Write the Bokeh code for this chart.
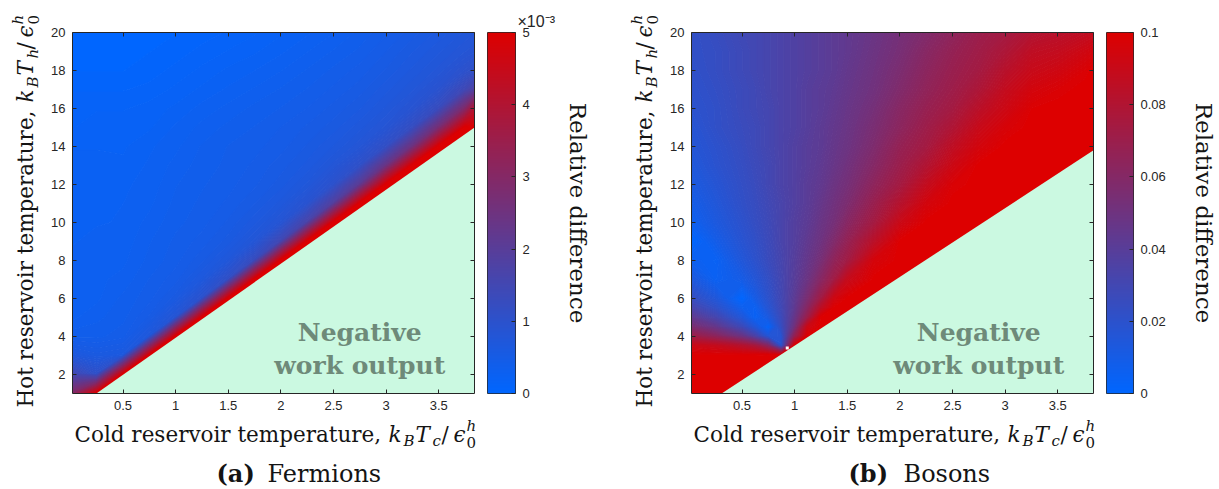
import math
import numpy as np
from bokeh.plotting import figure
from bokeh.layouts import row, column
from bokeh.models import (LinearColorMapper, LinearAxis, FixedTicker, PrintfTickFormatter,
                          CustomJSTickFormatter, Range1d, Title, ColumnDataSource)
from bokeh.core.properties import value
from bokeh.embed import file_html
from bokeh.resources import INLINE

# ---------------------------------------------------------------- data
tc_limits = [0.02, 3.84]          # cold reservoir temperature, k_B T_c / eps_0^h
th_limits = [1.0, 20.0]           # hot reservoir temperature,  k_B T_h / eps_0^h
tc_ticks = [0.5, 1, 1.5, 2, 2.5, 3, 3.5]
th_ticks = [2, 4, 6, 8, 10, 12, 14, 16, 18, 20]

# Fermions: grid nodes and relative difference in units of 1e-3 (one row per T_h node, lowest first).
# At and beyond the edge of the positive-work region the map is saturated (5).
fermion_tc = [0.02, 0.25, 0.5, 0.75, 1.0, 1.25, 1.5, 1.75, 2.0, 2.25, 2.5, 2.75, 3.0, 3.25, 3.5, 3.75, 3.84]
fermion_th = [1, 2, 3, 4, 5, 6, 7, 8, 9, 10, 11, 12, 13, 14, 15, 16, 17, 18, 19, 20]
fermion_diff = [
    [3.0, 5, 5, 5, 5, 5, 5, 5, 5, 5, 5, 5, 5, 5, 5, 5, 5],
    [1.5, 1.1, 5, 5, 5, 5, 5, 5, 5, 5, 5, 5, 5, 5, 5, 5, 5],
    [0.7, 0.6, 0.65, 5, 5, 5, 5, 5, 5, 5, 5, 5, 5, 5, 5, 5, 5],
    [0.4, 0.4, 0.45, 0.72, 5, 5, 5, 5, 5, 5, 5, 5, 5, 5, 5, 5, 5],
    [0.3, 0.35, 0.4, 0.53, 0.85, 5, 5, 5, 5, 5, 5, 5, 5, 5, 5, 5, 5],
    [0.3, 0.3, 0.38, 0.45, 0.6, 1.0, 5, 5, 5, 5, 5, 5, 5, 5, 5, 5, 5],
    [0.3, 0.3, 0.33, 0.42, 0.5, 0.68, 1.15, 5, 5, 5, 5, 5, 5, 5, 5, 5, 5],
    [0.3, 0.3, 0.3, 0.38, 0.45, 0.56, 0.74, 1.3, 5, 5, 5, 5, 5, 5, 5, 5, 5],
    [0.25, 0.3, 0.28, 0.36, 0.43, 0.49, 0.6, 0.8, 1.5, 5, 5, 5, 5, 5, 5, 5, 5],
    [0.25, 0.25, 0.27, 0.33, 0.4, 0.45, 0.53, 0.66, 0.85, 1.7, 5, 5, 5, 5, 5, 5, 5],
    [0.25, 0.25, 0.26, 0.3, 0.38, 0.43, 0.48, 0.57, 0.7, 0.93, 1.9, 5, 5, 5, 5, 5, 5],
    [0.25, 0.25, 0.25, 0.28, 0.36, 0.41, 0.45, 0.51, 0.6, 0.74, 1.0, 2.1, 5, 5, 5, 5, 5],
    [0.25, 0.25, 0.22, 0.27, 0.33, 0.39, 0.43, 0.48, 0.55, 0.64, 0.8, 1.08, 2.4, 5, 5, 5, 5],
    [0.2, 0.2, 0.2, 0.25, 0.3, 0.37, 0.42, 0.45, 0.5, 0.58, 0.68, 0.82, 1.15, 2.5, 5, 5, 5],
    [0.15, 0.2, 0.2, 0.2, 0.27, 0.33, 0.38, 0.42, 0.47, 0.53, 0.6, 0.71, 0.85, 1.22, 2.7, 5, 5],
    [0.15, 0.15, 0.15, 0.18, 0.22, 0.28, 0.33, 0.38, 0.42, 0.47, 0.54, 0.62, 0.74, 0.9, 1.3, 2.9, 4.0],
    [0.1, 0.1, 0.1, 0.12, 0.17, 0.22, 0.27, 0.32, 0.37, 0.42, 0.48, 0.55, 0.66, 0.77, 0.95, 1.45, 1.8],
    [0.05, 0.05, 0.05, 0.08, 0.12, 0.17, 0.22, 0.26, 0.31, 0.37, 0.43, 0.49, 0.58, 0.69, 0.8, 1.0, 1.1],
    [0.0, 0.0, 0.03, 0.05, 0.08, 0.12, 0.16, 0.2, 0.25, 0.31, 0.37, 0.43, 0.52, 0.62, 0.72, 0.83, 0.87],
    [0.0, 0.0, 0.0, 0.02, 0.05, 0.08, 0.11, 0.15, 0.2, 0.25, 0.31, 0.38, 0.46, 0.55, 0.64, 0.74, 0.78],
]

# Bosons: nodes (denser around the point where the map pinches) and relative difference;
# saturated (0.1) at and beyond the positive-work edge.
boson_tc = [0.02, 0.25, 0.5, 0.625, 0.75, 0.875, 1.0, 1.125, 1.25, 1.375, 1.5,
            1.75, 2.0, 2.25, 2.5, 2.75, 3.0, 3.25, 3.5, 3.75, 3.84]
boson_th = [1, 2, 3, 3.5, 4, 4.5, 5, 5.5, 6, 7, 8, 9, 10, 11, 12, 13, 14, 15, 16, 17, 18, 19, 20]
boson_diff = [
    [0.1] * 21,
    [0.1] * 21,
    [0.1] * 21,
    [0.092, 0.089, 0.082, 0.076, 0.061, 0.018] + [0.1] * 15,
    [0.072, 0.064, 0.049, 0.035, 0.016, 0.017, 0.067] + [0.1] * 14,
    [0.056, 0.046, 0.028, 0.015, 0.002, 0.024, 0.051, 0.092] + [0.1] * 13,
    [0.044, 0.032, 0.015, 0.004, 0.012, 0.027, 0.046, 0.071] + [0.1] * 13,
    [0.033, 0.022, 0.007, 0.005, 0.017, 0.029, 0.043, 0.062, 0.085] + [0.1] * 12,
    [0.025, 0.015, 0.0, 0.01, 0.02, 0.03, 0.042, 0.056, 0.073, 0.093] + [0.1] * 11,
    [0.014, 0.005, 0.01, 0.016, 0.023, 0.031, 0.040, 0.049, 0.061, 0.073, 0.089] + [0.1] * 10,
    [0.006, 0.004, 0.015, 0.02, 0.026, 0.032, 0.039, 0.046, 0.054, 0.065, 0.073, 0.096] + [0.1] * 9,
    [0.0, 0.009, 0.018, 0.022, 0.027, 0.033, 0.038, 0.044, 0.05, 0.058, 0.067, 0.084] + [0.1] * 9,
    [0.006, 0.013, 0.02, 0.024, 0.028, 0.033, 0.038, 0.042, 0.048, 0.053, 0.061, 0.074, 0.091] + [0.1] * 8,
    [0.009, 0.015, 0.022, 0.025, 0.029, 0.033, 0.037, 0.041, 0.046, 0.051, 0.056, 0.069, 0.082, 0.095] + [0.1] * 7,
    [0.012, 0.017, 0.023, 0.026, 0.03, 0.034, 0.037, 0.041, 0.044, 0.049, 0.053,
     0.064, 0.074, 0.088, 0.098, 0.1, 0.1, 0.1, 0.1, 0.1, 0.1],
    [0.014, 0.019, 0.024, 0.027, 0.03, 0.034, 0.037, 0.04, 0.043, 0.047, 0.051,
     0.06, 0.07, 0.08, 0.092, 0.1, 0.1, 0.1, 0.1, 0.1, 0.1],
    [0.016, 0.02, 0.025, 0.028, 0.031, 0.034, 0.037, 0.04, 0.042, 0.046, 0.049,
     0.057, 0.067, 0.074, 0.086, 0.095, 0.1, 0.1, 0.1, 0.1, 0.1],
    [0.017, 0.022, 0.026, 0.028, 0.031, 0.034, 0.036, 0.039, 0.042, 0.045, 0.048,
     0.055, 0.063, 0.071, 0.079, 0.09, 0.097, 0.1, 0.1, 0.1, 0.1],
    [0.019, 0.022, 0.027, 0.029, 0.031, 0.034, 0.036, 0.039, 0.041, 0.044, 0.047,
     0.053, 0.061, 0.068, 0.074, 0.084, 0.092, 0.099, 0.1, 0.1, 0.1],
    [0.02, 0.023, 0.027, 0.029, 0.032, 0.034, 0.036, 0.039, 0.041, 0.043, 0.046,
     0.051, 0.058, 0.065, 0.071, 0.078, 0.088, 0.095, 0.098, 0.1, 0.1],
    [0.021, 0.024, 0.028, 0.03, 0.032, 0.034, 0.036, 0.038, 0.04, 0.042, 0.045,
     0.05, 0.056, 0.063, 0.069, 0.074, 0.083, 0.09, 0.093, 0.098, 0.1],
    [0.022, 0.024, 0.028, 0.03, 0.032, 0.034, 0.036, 0.038, 0.04, 0.042, 0.044,
     0.049, 0.054, 0.061, 0.067, 0.072, 0.078, 0.086, 0.088, 0.093, 0.095],
    [0.022, 0.025, 0.029, 0.03, 0.032, 0.034, 0.036, 0.038, 0.04, 0.042, 0.044,
     0.048, 0.053, 0.058, 0.064, 0.07, 0.074, 0.08, 0.083, 0.086, 0.088],
]

# edge of the negative-work region (T_c, T_h)
fermion_edge_tc = [0.247, 3.84]
fermion_edge_th = [1.0, 15.0]
boson_edge_tc = [0.306, 3.84]
boson_edge_th = [1.0, 13.8]

# isolated undefined point in the boson map
boson_hole_tc = [0.93]
boson_hole_th = [3.4]

fermion_scale_ticks = [0, 1, 2, 3, 4, 5]
boson_scale_ticks = [0, 0.02, 0.04, 0.06, 0.08, 0.1]

# ---------------------------------------------------------------- style
AX = "#262626"
INK = "#141414"
MINT = "#cbf9e1"
NOTE = "#6e8a79"
SERIF = "DejaVu Serif"
SANS = "Liberation Sans"
DROP = 0.37            # distance (in em) from a centred text anchor down to the baseline
TITLE_PX = 21.5

PAGE_H = 489
TOP_H = 418            # height of the row holding the maps
FRAME_TOP = 32
FRAME_H = 361
FRAME_W = 402
BAR_W = 28
BOTTOM_H = PAGE_H - TOP_H

BLUE = np.array([0, 102, 255])
RED = np.array([221, 0, 0])


def shade(t):
    t = min(max(t, 0.0), 1.0)
    r, g, b = np.rint(BLUE * (1 - t) + RED * t).astype(int)
    return "#%02x%02x%02x" % (r, g, b)


PALETTE = [shade(t) for t in np.linspace(0, 1, 256)]


def style_axis(ax, ticks, labelled):
    ax.ticker = FixedTicker(ticks=ticks)
    ax.major_tick_in = 4
    ax.major_tick_out = 0
    ax.minor_tick_line_color = None
    ax.axis_line_color = AX
    ax.major_tick_line_color = AX
    if labelled:
        ax.formatter = PrintfTickFormatter(format="%g")
        ax.major_label_text_font = SANS
        ax.major_label_text_font_size = "13px"
        ax.major_label_text_color = AX
        ax.major_label_standoff = 7
    else:
        ax.formatter = CustomJSTickFormatter(code="return ''")
        ax.major_label_standoff = 0
        ax.major_label_text_font_size = "1px"


def heat_panel(tc, th, values, high, edge_tc, edge_th):
    border_left = 27
    p = figure(width=border_left + FRAME_W + 6, height=TOP_H, title=None,
               x_range=Range1d(*tc_limits), y_range=Range1d(*th_limits),
               output_backend="svg", toolbar_location=None,
               min_border_left=border_left, min_border_right=6,
               min_border_top=FRAME_TOP, min_border_bottom=TOP_H - FRAME_TOP - FRAME_H)
    p.xgrid.visible = False
    p.ygrid.visible = False
    p.outline_line_color = None
    p.border_fill_color = "white"
    p.background_fill_color = "white"

    # filled contours, fine enough to read as a continuous shading;
    # each level line is stroked in its own colour so the bands join without seams
    levels = list(np.linspace(0, high, 97))
    levels[0] = -0.01 * high
    levels[-1] = 1.01 * high
    fills = [shade((lo + hi) / 2 / high) for lo, hi in zip(levels[:-1], levels[1:])]
    strokes = [shade(lv / high) for lv in levels]
    p.contour(x=tc, y=th, z=np.array(values, dtype=float), levels=levels,
              fill_color=fills, line_color=strokes, line_width=1.3)

    # region where the engine gives negative work
    p.patch(edge_tc + [tc_limits[1]], edge_th + [th_limits[0]], fill_color=MINT, line_color=None)

    style_axis(p.xaxis[0], tc_ticks, True)
    style_axis(p.yaxis[0], th_ticks, True)
    top = LinearAxis()
    style_axis(top, tc_ticks, False)
    p.add_layout(top, "above")
    right = LinearAxis()
    style_axis(right, th_ticks, False)
    p.add_layout(right, "right")

    p.text(x=[2.75, 2.75], y=[3.74, 2.01], text=["Negative", "work output"], y_offset=-DROP * 25,
           text_font=value(SERIF), text_font_size=value("25px"), text_font_style=value("bold"),
           text_color=NOTE, text_align=value("center"), text_baseline=value("middle"))
    return p


def scale_panel(high, ticks, fig_width, label_gap):
    p = figure(width=fig_width, height=TOP_H, title=None, x_range=Range1d(0, 1), y_range=Range1d(0, high),
               output_backend="svg", toolbar_location=None, x_axis_location=None, y_axis_location="right",
               min_border_left=7, min_border_right=fig_width - 7 - BAR_W,
               min_border_top=FRAME_TOP, min_border_bottom=TOP_H - FRAME_TOP - FRAME_H)
    p.xgrid.visible = False
    p.ygrid.visible = False
    p.outline_line_color = AX
    p.border_fill_color = "white"
    levels = np.linspace(0, high, 256).reshape(256, 1)
    p.image(image=[levels], x=0, y=0, dw=1, dh=high,
            color_mapper=LinearColorMapper(palette=PALETTE, low=0, high=high))
    ax = p.yaxis[0]
    style_axis(ax, ticks, True)
    ax.axis_line_color = None
    ax.axis_label = "Relative difference"
    ax.axis_label_text_font = SERIF
    ax.axis_label_text_font_size = "23px"
    ax.axis_label_text_font_style = "normal"
    ax.axis_label_text_color = INK
    ax.axis_label_standoff = label_gap
    return p


def text_strip(width, height, x0, y0, pieces):
    """Free text laid out in page pixels; x0, y0 is the strip's top-left corner on the page.
    Each piece is (text, x, y, size, style, angle) with (x, y) the start of its baseline."""
    xs, ys = [], []
    for txt, x, y, size, style, angle in pieces:
        drop = DROP * size
        xs.append(x - x0 - drop * math.sin(angle))
        ys.append(y - y0 - drop * math.cos(angle))
    p = figure(width=width, height=height, title=None, x_range=Range1d(0, width), y_range=Range1d(height, 0),
               output_backend="svg", toolbar_location=None, x_axis_location=None, y_axis_location=None,
               min_border=0, min_border_left=0, min_border_right=0, min_border_top=0, min_border_bottom=0)
    p.xgrid.visible = False
    p.ygrid.visible = False
    p.outline_line_color = None
    p.border_fill_color = "white"
    p.background_fill_color = "white"
    src = ColumnDataSource(dict(
        x=xs, y=ys, text=[q[0] for q in pieces], size=[f"{q[3]}px" for q in pieces],
        style=[q[4] for q in pieces], angle=[q[5] for q in pieces]))
    p.text(x="x", y="y", text="text", angle="angle", source=src, text_font=value(SERIF),
           text_font_size="size", text_font_style="style", text_color=INK,
           text_align="left", text_baseline="middle")
    return p


def symbol(sub):
    # pieces of  k_B T_sub / eps_0^h : (text, advance, baseline shift, size, style)
    return [("k", 0, 0, TITLE_PX, "italic"), ("B", 15, 5, 15, "italic"), ("T", 27, 0, TITLE_PX, "italic"),
            (sub, 44, 5, 15, "italic"), ("/", 53, 0, TITLE_PX, "normal"), ("ϵ", 65, 0, TITLE_PX, "italic"),
            ("0", 78, 6, 15, "normal"), ("h", 78, -10, 15, "italic")]


def x_title(shift):
    base = 441.5
    out = [("Cold reservoir temperature,", 74 + shift, base, TITLE_PX, "normal", 0.0)]
    for txt, adv, dy, size, style in symbol("c"):
        out.append((txt, 388 + shift + adv, base + dy, size, style, 0.0))
    return out


def y_title(bx):
    up = math.pi / 2
    out = [("Hot reservoir temperature,", bx, 407, TITLE_PX, "normal", up)]
    for txt, adv, dy, size, style in symbol("h"):
        out.append((txt, bx + dy, 102 - adv, size, style, up))
    return out


# ---------------------------------------------------------------- page
fa = heat_panel(fermion_tc, fermion_th, fermion_diff, 5, fermion_edge_tc, fermion_edge_th)
fb = heat_panel(boson_tc, boson_th, boson_diff, 0.1, boson_edge_tc, boson_edge_th)
fb.scatter(boson_hole_tc, boson_hole_th, marker="square", size=3, color="white", line_color=None)

ca = scale_panel(5, fermion_scale_ticks, 129, 32)
ca.add_layout(Title(text="×10⁻³", align="left", offset=30, text_font=SANS, text_font_size="16px",
                    text_font_style="normal", text_color=AX, standoff=6), "above")
cb = scale_panel(0.1, boson_scale_ticks, 120, 22)

# page columns: [0, 45) title A | [45, 609) panel A | [609, 664) title B | [664, 1219) panel B
left_strip = text_strip(45, PAGE_H, 0, 0, y_title(33))
mid_strip = text_strip(55, PAGE_H, 609, 0, y_title(652))

caption_a = [("(a)", 216, 482, 24, "bold", 0.0), ("Fermions", 267, 482, 24, "normal", 0.0)]
caption_b = [("(b)", 848, 482, 24, "bold", 0.0), ("Bosons", 903, 482, 24, "normal", 0.0)]
under_a = text_strip(564, BOTTOM_H, 45, TOP_H, x_title(0) + caption_a)
under_b = text_strip(555, BOTTOM_H, 664, TOP_H, x_title(619) + caption_b)

layout = row(left_strip, column(row(fa, ca), under_a), mid_strip, column(row(fb, cb), under_b))
open("out.html", "w").write(file_html(layout, INLINE))
